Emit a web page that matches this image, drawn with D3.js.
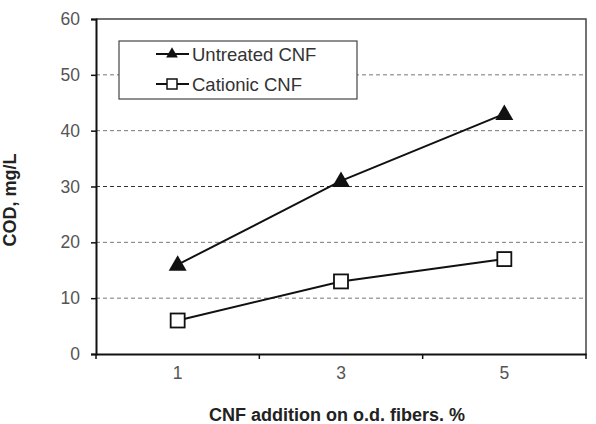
<!DOCTYPE html>
<html lang="en">
<head>
<meta charset="UTF-8">
<title>COD chart</title>
<style>
  body { margin: 0; background: #fff; }
  text { font-family: "Liberation Sans", Arial, sans-serif; }
</style>
</head>
<body>
<div id="chart"></div>
<script src="https://d3js.org/d3.v7.min.js"></script>
<script>
  // data
  const categories = ["1", "3", "5"];
  const untreated = [16, 31, 43];
  const cationic = [6, 13, 17];
  const yTicks = [0, 10, 20, 30, 40, 50, 60];
  const seriesNames = ["Untreated CNF", "Cationic CNF"];

  const w = 596, h = 424;
  const m = { left: 96, right: 10, top: 19, bottom: 70 };

  const svg = d3.select("#chart").append("svg")
    .attr("width", w).attr("height", h);

  const x = d3.scaleBand().domain(categories).range([m.left, w - m.right]);
  const y = d3.scaleLinear().domain([0, 60]).range([h - m.bottom, m.top]);

  // dashed gridlines
  svg.append("g").selectAll("line")
    .data(yTicks.filter(d => d > 0 && d < 60))
    .enter().append("line")
    .attr("x1", m.left).attr("x2", w - m.right)
    .attr("y1", d => y(d)).attr("y2", d => y(d))
    .attr("stroke", d => d === 30 ? "#333" : "#777")
    .attr("stroke-width", 1)
    .attr("stroke-dasharray", "4,3");

  // top and right frame
  svg.append("path")
    .attr("d", `M${m.left},${y(60)}H${w - m.right}V${y(0)}`)
    .attr("fill", "none").attr("stroke", "#444").attr("stroke-width", 1.5);

  // y axis
  const yAxis = svg.append("g")
    .attr("transform", `translate(${m.left},0)`)
    .call(d3.axisLeft(y).tickValues(yTicks).tickSize(5).tickPadding(11));
  yAxis.select(".domain").attr("stroke", "#111").attr("stroke-width", 2);
  yAxis.selectAll(".tick line").attr("stroke", "#111").attr("stroke-width", 1.5);
  yAxis.selectAll("text").attr("fill", "#555").style("font-size", "17.5px")
    .style("font-family", "'Liberation Sans', Arial, sans-serif");

  // x axis: labels at category centres, ticks at boundaries
  const xAxis = svg.append("g")
    .attr("transform", `translate(0,${y(0)})`)
    .call(d3.axisBottom(x).tickSize(0).tickPadding(13));
  xAxis.select(".domain").attr("stroke", "#111").attr("stroke-width", 2);
  xAxis.selectAll("text").attr("fill", "#555").style("font-size", "17.5px")
    .style("font-family", "'Liberation Sans', Arial, sans-serif");
  const bounds = categories.map(c => x(c)).concat([x(categories[categories.length - 1]) + x.bandwidth()]);
  xAxis.selectAll(".bnd").data(bounds).enter().append("line")
    .attr("x1", d => d).attr("x2", d => d)
    .attr("y1", 0).attr("y2", 5)
    .attr("stroke", "#111").attr("stroke-width", 1.5);

  const cx = d => x(d) + x.bandwidth() / 2;
  const line = d3.line().x(d => cx(d[0])).y(d => y(d[1]));
  const tri = d3.symbol().type(d3.symbolTriangle).size(140);

  // untreated series
  const uData = categories.map((c, i) => [c, untreated[i]]);
  svg.append("path").datum(uData).attr("d", line)
    .attr("fill", "none").attr("stroke", "#111").attr("stroke-width", 2);
  svg.selectAll(".tri").data(uData).enter().append("path")
    .attr("d", tri)
    .attr("transform", d => `translate(${cx(d[0])},${y(d[1]) + 1})`)
    .attr("fill", "#111");

  // cationic series
  const cData = categories.map((c, i) => [c, cationic[i]]);
  svg.append("path").datum(cData).attr("d", line)
    .attr("fill", "none").attr("stroke", "#111").attr("stroke-width", 2);
  svg.selectAll(".sq").data(cData).enter().append("rect")
    .attr("x", d => cx(d[0]) - 7).attr("y", d => y(d[1]) - 7)
    .attr("width", 14).attr("height", 14)
    .attr("fill", "#fff").attr("stroke", "#111").attr("stroke-width", 1.8);

  // legend
  const lg = svg.append("g");
  lg.append("rect").attr("x", 119).attr("y", 41).attr("width", 238).attr("height", 58)
    .attr("fill", "#fff").attr("stroke", "#444").attr("stroke-width", 1.2);
  const rows = [54, 84];
  rows.forEach((ry, i) => {
    lg.append("line").attr("x1", 156).attr("x2", 189).attr("y1", ry).attr("y2", ry)
      .attr("stroke", "#111").attr("stroke-width", 2);
    if (i === 0) {
      lg.append("path").attr("d", d3.symbol().type(d3.symbolTriangle).size(60))
        .attr("transform", `translate(172,${ry})`).attr("fill", "#111");
    } else {
      lg.append("rect").attr("x", 167).attr("y", ry - 5).attr("width", 10).attr("height", 10)
        .attr("fill", "#fff").attr("stroke", "#111").attr("stroke-width", 1.5);
    }
    lg.append("text").attr("x", 192).attr("y", ry + 6.5)
      .attr("fill", "#333").style("font-size", "18.5px").text(seriesNames[i]);
  });

  // axis titles
  svg.append("text")
    .attr("x", 337).attr("y", 421)
    .attr("text-anchor", "middle")
    .style("font-size", "18px").style("font-weight", "bold").attr("fill", "#222")
    .text("CNF addition on o.d. fibers. %");

  svg.append("text")
    .attr("transform", "rotate(-90)")
    .attr("x", -200).attr("y", 16)
    .attr("text-anchor", "middle")
    .style("font-size", "18px").style("font-weight", "bold").attr("fill", "#222")
    .text("COD, mg/L");
</script>
</body>
</html>
